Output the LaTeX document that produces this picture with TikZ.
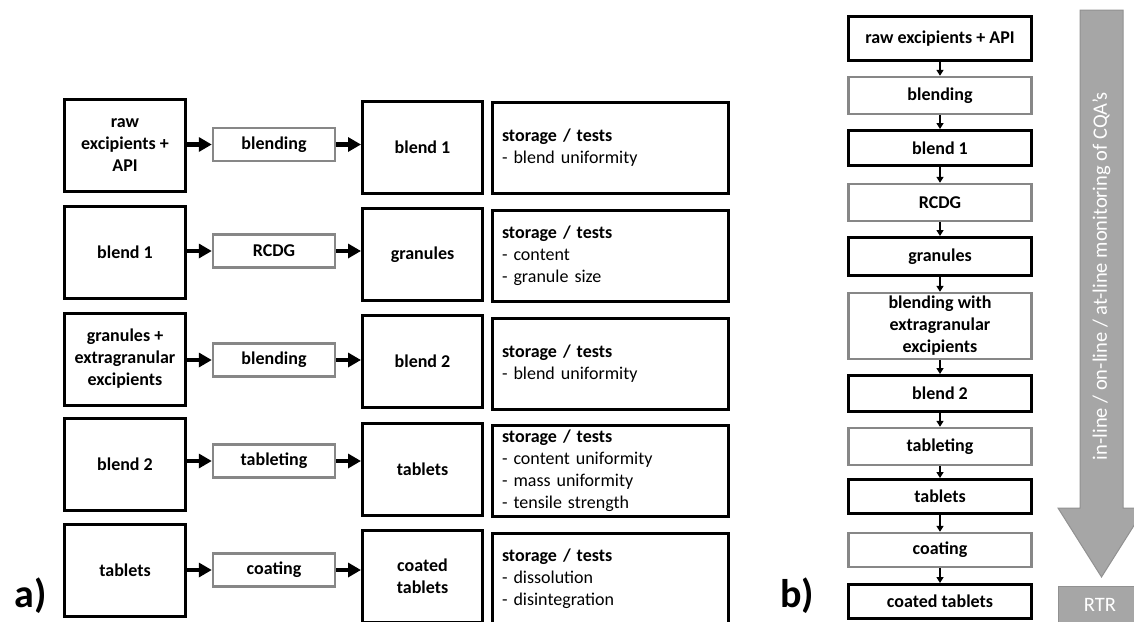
\documentclass[tikz,border=0pt]{standalone}
\usepackage{fontspec}
\setmainfont{Carlito}
\usetikzlibrary{arrows.meta}
\definecolor{procgray}{RGB}{135,135,135}
\definecolor{arrowgray}{RGB}{166,166,166}
\definecolor{arrowedge}{RGB}{145,145,145}
\begin{document}
\begin{tikzpicture}[x=1pt,y=-1pt,
  blk/.style={draw=black, line width=3pt, fill=white, inner sep=0pt, align=center,
    font=\fontsize{18}{22}\selectfont\bfseries},
  prc/.style={draw=procgray, line width=2.4pt, fill=white, inner sep=0pt, align=center,
    font=\fontsize{18}{22}\selectfont\bfseries},
  tst/.style={draw=black, line width=3pt, fill=white, inner ysep=0pt, inner xsep=10pt,
    text width=216pt, align=left, minimum height=91pt, font=\fontsize{18}{22}\selectfont},
  ain/.style={blk, minimum width=121pt, minimum height=92pt},
  aout/.style={blk, minimum width=120pt, minimum height=92pt},
  apr/.style={prc, minimum width=122pt, minimum height=33pt},
  bb/.style={blk, minimum width=183pt},
  bp/.style={prc, minimum width=183pt},
  bigarr/.style={line width=4.5pt, -{Triangle[length=13pt,width=14pt]}},
  smallarr/.style={line width=1.6pt, -{Triangle[length=6pt,width=7pt]}},
  lab/.style={font=\fontsize{40}{44}\selectfont\bfseries, inner sep=0pt}
]
\clip (0,0) rectangle (1134,621);
\fill[white] (0,0) rectangle (1134,621);

% ---------------- panel a ----------------
% row 1
\node[ain]  (ai1) at (125,145.5) {raw\\excipients +\\API};
\node[apr]  (ap1) at (274,144.5) {blending};
\node[aout] (ao1) at (422.5,147) {blend 1};
\node[tst]  (at1) at (610,147.5) {\textbf{storage / tests}\\- blend uniformity};
% row 2
\node[ain]  (ai2) at (125,252) {blend 1};
\node[apr]  (ap2) at (274,251) {RCDG};
\node[aout] (ao2) at (422.5,254.5) {granules};
\node[tst]  (at2) at (610,255.5) {\textbf{storage / tests}\\- content\\- granule size};
% row 3
\node[ain]  (ai3) at (125,359) {granules +\\extragranular\\excipients};
\node[apr]  (ap3) at (274,360) {blending};
\node[aout] (ao3) at (422.5,361.5) {blend 2};
\node[tst]  (at3) at (610,363.5) {\textbf{storage / tests}\\- blend uniformity};
% row 4
\node[ain]  (ai4) at (125,464.5) {blend 2};
\node[apr]  (ap4) at (274,461) {tableting};
\node[aout] (ao4) at (422.5,469.5) {tablets};
\node[tst]  (at4) at (610,471) {\textbf{storage / tests}\\- content uniformity\\- mass uniformity\\- tensile strength};
% row 5
\node[ain]  (ai5) at (125,570.5) {tablets};
\node[apr]  (ap5) at (274,570) {coating};
\node[aout] (ao5) at (422.5,576.5) {coated\\tablets};
\node[tst]  (at5) at (610,579) {\textbf{storage / tests}\\- dissolution\\- disintegration};

\foreach \i in {1,...,5}{
  \draw[bigarr] (ai\i.east |- ap\i) -- (ap\i.west);
  \draw[bigarr] (ap\i.east) -- (ao\i.west |- ap\i);
}

\node[lab] (la) at (31,596) {a)};

% ---------------- panel b ----------------
\node[bb, minimum height=44pt] (b1)  at (940,38.5)  {raw excipients + API};
\node[bp, minimum height=37pt] (b2)  at (940,95.5)  {blending};
\node[bb, minimum height=35pt] (b3)  at (940,148)   {blend 1};
\node[bp, minimum height=37pt] (b4)  at (940,202.5) {RCDG};
\node[bb, minimum height=38pt] (b5)  at (940,256.5) {granules};
\node[bp, minimum height=66pt] (b6)  at (940,326)   {blending with\\extragranular\\excipients};
\node[bb, minimum height=36pt] (b7)  at (940,393.5) {blend 2};
\node[bp, minimum height=37pt] (b8)  at (940,446.5) {tableting};
\node[bb, minimum height=34pt] (b9)  at (940,496.5) {tablets};
\node[bp, minimum height=34pt] (b10) at (940,550)   {coating};
\node[bb, minimum height=34pt] (b11) at (940,601.5) {coated tablets};

\foreach \i [evaluate=\i as \j using int(\i+1)] in {1,...,10}{
  \draw[smallarr] (b\i) -- (b\j);
}

\node[lab] (lb) at (797,596) {b)};

% big gray arrow
\filldraw[fill=arrowgray, draw=arrowedge, line width=1pt]
  (1080,10) -- (1123,10) -- (1123,508) -- (1145,508) -- (1101.5,577)
  -- (1058,508) -- (1080,508) -- cycle;
\node[rotate=90, text=white, font=\fontsize{20.5}{24}\selectfont] (mon) at (1101.5,276)
  {in-line / on-line / at-line monitoring of CQA’s};
\node[fill=arrowgray, draw=arrowedge, line width=1pt, minimum width=84pt,
  minimum height=38pt, text=white, font=\fontsize{20.5}{24}\selectfont] (rtr) at (1100,605) {RTR};
\end{tikzpicture}
\end{document}
